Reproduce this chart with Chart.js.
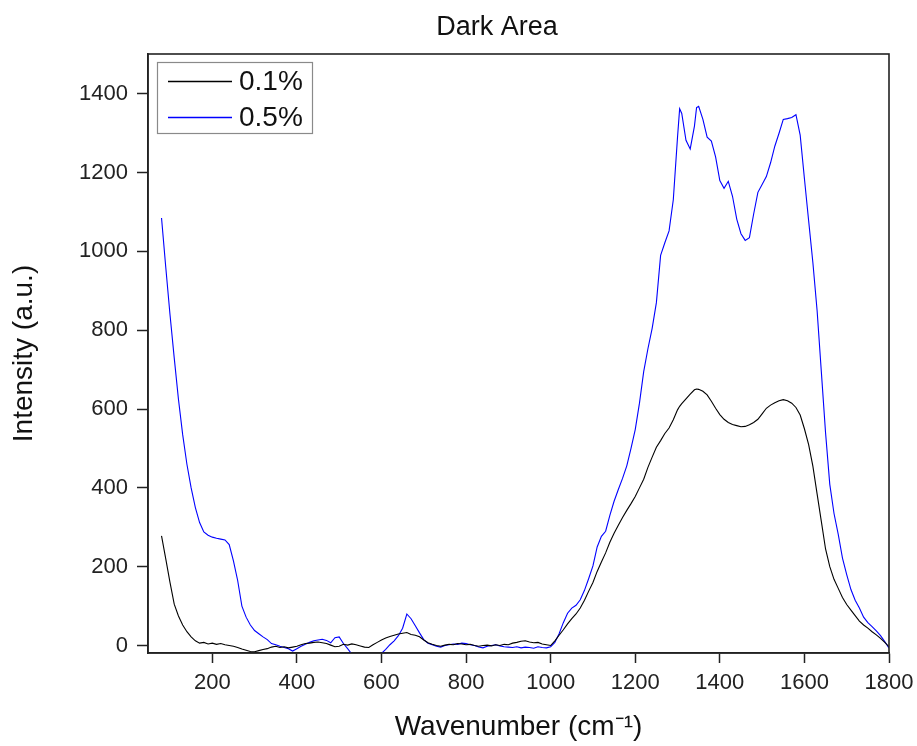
<!DOCTYPE html>
<html>
<head>
<meta charset="utf-8">
<title>Dark Area</title>
<script src="https://cdn.jsdelivr.net/npm/chart.js@4.4.1/dist/chart.umd.min.js"></script>
<style>
  html, body { margin: 0; padding: 0; background: #fff; }
  #wrap { width: 917px; height: 746px; }
</style>
</head>
<body>
<div id="wrap"><canvas id="spectrum" width="917" height="746"></canvas></div>
<script>
// Wavenumbers (cm-1) shared by both spectra
var wavenumbers = [
  80, 90, 100, 110, 120, 130, 140, 150, 160, 170, 180, 190, 200, 210, 220, 230, 240, 250, 260, 270,
  280, 290, 300, 310, 320, 330, 340, 350, 360, 370, 380, 390, 400, 410, 420, 430, 440, 450, 460, 470,
  480, 490, 500, 510, 520, 530, 540, 550, 560, 570, 580, 590, 600, 610, 620, 630, 640, 650, 660, 670,
  680, 690, 700, 710, 720, 730, 740, 750, 760, 770, 780, 790, 800, 810, 820, 830, 840, 850, 860, 870,
  880, 890, 900, 910, 920, 930, 940, 950, 960, 970, 980, 990, 1000, 1010, 1020, 1030, 1040, 1050, 1060, 1070,
  1080, 1090, 1100, 1110, 1120, 1130, 1140, 1150, 1160, 1170, 1180, 1190, 1200, 1210, 1220, 1230, 1240, 1250, 1260, 1270,
  1280, 1290, 1300, 1305, 1310, 1320, 1330, 1340, 1345, 1350, 1360, 1370, 1380, 1390, 1400, 1410, 1420, 1430, 1440, 1450,
  1460, 1470, 1480, 1490, 1500, 1510, 1520, 1530, 1540, 1550, 1560, 1570, 1580, 1590, 1600, 1610, 1620, 1630, 1640, 1650,
  1660, 1670, 1680, 1690, 1700, 1710, 1720, 1730, 1740, 1750, 1760, 1770, 1780, 1790, 1800
];

// 0.1% sample
var intensity01 = [
  278, 220, 160, 105, 75, 52, 35, 22, 12, 6, 8, 4, 6, 3, 5, 2, 0, -2, -5, -9,
  -12, -15, -16, -13, -10, -8, -4, -2, -5, -3, -6, -4, -2, 2, 5, 6, 8, 9, 7, 5,
  1, -3, -2, 3, 1, 4, 2, -1, -4, -5, 2, 8, 14, 19, 23, 26, 29, 31, 33, 28,
  26, 22, 14, 7, 3, 0, -2, 1, 3, 2, 5, 4, 2, 3, 0, -2, 0, 1, -1, 2,
  0, 3, 2, 6, 8, 11, 12, 9, 7, 8, 4, 2, 0, 12, 26, 40, 55, 68, 80, 95,
  115, 138, 160, 188, 212, 235, 262, 285, 305, 325, 343, 360, 378, 400, 422, 452, 478, 503, 520, 538,
  552, 573, 598, 607, 614, 626, 638, 649, 651, 650, 645, 636, 620, 602, 586, 574, 566, 561, 558, 555,
  556, 560, 566, 574, 588, 602, 610, 616, 621, 624, 621, 615, 604, 585, 550, 510, 455, 385, 315, 245,
  200, 168, 145, 122, 104, 90, 76, 62, 52, 44, 35, 27, 18, 8, -3
];

// 0.5% sample
var intensity05 = [
  1085, 960, 840, 730, 625, 535, 460, 400, 350, 312, 288, 280, 275, 272, 270, 268, 256, 215, 165, 100,
  72, 52, 38, 30, 22, 15, 5, 2, -2, -5, -8, -14, -8, -2, 3, 8, 12, 14, 16, 13,
  7, 20, 22, 5, -8, -22, -30, -35, -35, -32, -28, -24, -20, -10, 2, 12, 25, 44, 80, 68,
  50, 32, 15, 6, 2, -2, -4, 0, 2, 4, 3, 6, 5, 2, 0, -4, -6, -2, 0, 2,
  -1, -3, -4, -5, -3, -6, -4, -5, -7, -3, -5, -6, -3, 8, 30, 58, 82, 95, 102, 116,
  140, 170, 202, 250, 277, 290, 330, 366, 396, 424, 456, 500, 548, 615, 695, 753, 805, 870, 990, 1022,
  1052, 1131, 1290, 1362, 1350, 1282, 1260, 1318, 1365, 1368, 1335, 1290, 1280, 1240, 1180, 1160, 1178, 1140, 1082, 1045,
  1028, 1035, 1095, 1150, 1170, 1190, 1225, 1267, 1300, 1335, 1337, 1340, 1347, 1295, 1185, 1078, 972, 850, 695, 540,
  409, 335, 282, 222, 180, 142, 115, 95, 72, 58, 48, 37, 25, 10, -7
];

var seriesLabels = ['0.1%', '0.5%'];
var seriesColors = ['#000000', '#0000ff'];
var xTicks = [200, 400, 600, 800, 1000, 1200, 1400, 1600, 1800];
var yTicks = [0, 200, 400, 600, 800, 1000, 1200, 1400];

var toPoints = function(ys) {
  return wavenumbers.map(function(w, i) { return { x: w, y: ys[i] }; });
};

// plain numbers, no thousands separator
var plainLabel = function(value) {
  return String(value);
};

var FONT = "'Liberation Sans', Arial, sans-serif";

// Frame, inset legend and title drawn on the canvas
var framePlugin = {
  id: 'frame',
  afterDatasetsDraw: function(chart) {
    var ctx = chart.ctx;
    var a = chart.chartArea;
    ctx.save();
    ctx.strokeStyle = '#222';
    ctx.lineWidth = 1.6;
    ctx.strokeRect(a.left, a.top, a.right - a.left, a.bottom - a.top);

    // legend box
    var bx = 157, by = 62, bw = 155, bh = 71;
    ctx.fillStyle = '#fff';
    ctx.fillRect(bx, by, bw, bh);
    ctx.strokeStyle = '#8a8a8a';
    ctx.lineWidth = 1.2;
    ctx.strokeRect(bx + 0.5, by + 0.5, bw, bh);
    ctx.font = '28px ' + FONT;
    ctx.textBaseline = 'middle';
    ctx.textAlign = 'left';
    var rows = [81, 117];
    for (var i = 0; i < rows.length; i++) {
      ctx.beginPath();
      ctx.strokeStyle = seriesColors[i];
      ctx.lineWidth = 1.3;
      ctx.moveTo(168, rows[i] + 0.5);
      ctx.lineTo(232, rows[i] + 0.5);
      ctx.stroke();
      ctx.fillStyle = '#111';
      ctx.fillText(seriesLabels[i], 239, rows[i] + 1);
    }

    // title
    ctx.font = '27px ' + FONT;
    ctx.textAlign = 'center';
    ctx.fillStyle = '#111';
    ctx.fillText('Dark Area', 497, 28);
    ctx.restore();
  }
};

var ctx = document.getElementById('spectrum').getContext('2d');
var spectrumChart = new Chart(ctx, {
  type: 'line',
  data: {
    datasets: [
      {
        label: seriesLabels[0],
        data: toPoints(intensity01),
        borderColor: seriesColors[0],
        borderWidth: 1.1,
        pointRadius: 0,
        tension: 0
      },
      {
        label: seriesLabels[1],
        data: toPoints(intensity05),
        borderColor: seriesColors[1],
        borderWidth: 1.1,
        pointRadius: 0,
        tension: 0
      }
    ]
  },
  options: {
    responsive: false,
    animation: false,
    devicePixelRatio: 1,
    layout: {
      padding: { left: 0, top: 54, right: 28, bottom: 0 }
    },
    plugins: {
      legend: { display: false },
      title: { display: false },
      tooltip: { enabled: false }
    },
    scales: {
      x: {
        type: 'linear',
        min: 48,
        max: 1800,
        afterBuildTicks: function(scale) {
          scale.ticks = xTicks.map(function(v) { return { value: v }; });
        },
        afterFit: function(scale) {
          scale.height = 93;
          scale.paddingLeft = 0;
          scale.paddingRight = 0;
        },
        grid: {
          drawOnChartArea: false,
          tickLength: 10,
          tickWidth: 1.5,
          tickColor: '#222'
        },
        border: { display: true, color: '#222', width: 1.6 },
        ticks: {
          color: '#222',
          padding: 7,
          maxRotation: 0,
          callback: plainLabel,
          font: { family: FONT, size: 22 }
        },
        title: {
          display: true,
          text: 'Wavenumber (cm\u207B\u00B9)',
          color: '#111',
          padding: { top: 0, bottom: 2 },
          font: { family: FONT, size: 28 }
        }
      },
      y: {
        type: 'linear',
        min: -19,
        max: 1501,
        afterBuildTicks: function(scale) {
          scale.ticks = yTicks.map(function(v) { return { value: v }; });
        },
        afterFit: function(scale) {
          scale.width = 148;
          scale.paddingTop = 0;
          scale.paddingBottom = 0;
        },
        grid: {
          drawOnChartArea: false,
          tickLength: 11,
          tickWidth: 1.5,
          tickColor: '#222'
        },
        border: { display: true, color: '#222', width: 1.6 },
        ticks: {
          color: '#222',
          padding: 9,
          callback: plainLabel,
          font: { family: FONT, size: 22 }
        },
        title: {
          display: true,
          text: 'Intensity (a.u.)',
          color: '#111',
          padding: { top: 7, bottom: 0 },
          font: { family: FONT, size: 28 }
        }
      }
    }
  },
  plugins: [framePlugin]
});
</script>
</body>
</html>
